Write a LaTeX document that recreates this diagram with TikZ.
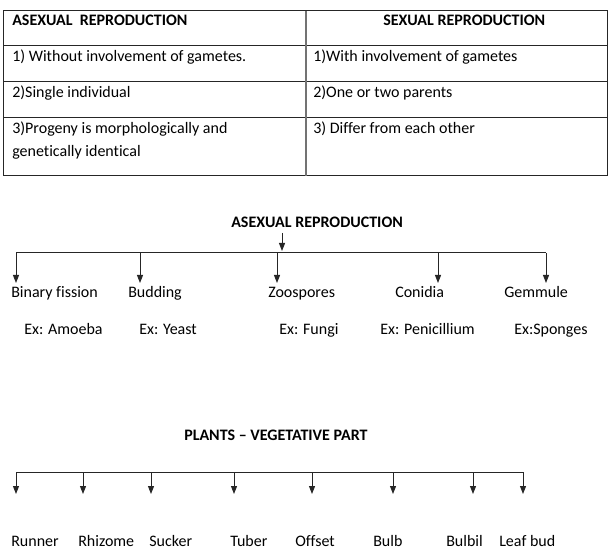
\documentclass[tikz,border=0pt]{standalone}
\usepackage{fontspec}
\setmainfont[Ligatures=NoCommon]{Carlito}
\usetikzlibrary{arrows.meta}

\begin{document}
\begin{tikzpicture}[x=0.75pt, y=-0.75pt,
	txt/.style={anchor=base west, inner sep=0pt, font=\fontsize{12}{14}\selectfont},
	head/.style={txt, font=\fontsize{12}{14}\selectfont\bfseries},
	rule/.style={line width=0.75pt, draw=black!85},
	branch/.style={-{Triangle[length=6pt, width=4.5pt]}, line width=0.75pt, draw=black!85}]
	
	\useasboundingbox (0, 0) rectangle (616, 555);
	
	% comparison table
	\draw[rule] (3.5, 11) rectangle (607, 176);
	\draw[rule] (3.5, 46) -- (607, 46);
	\draw[rule] (3.5, 82) -- (607, 82);
	\draw[rule] (3.5, 118) -- (607, 118);
	\draw[line width=1pt, draw=black!55] (306, 11) -- (306, 176);
	
	\node[head] (asex) at (12, 26)    {ASEXUAL\ \ REPRODUCTION};
	\node[head] (sex) at (383, 26)    {SEXUAL REPRODUCTION};
	
	\node[txt] (a1) at (12, 62)       {1) Without involvement of gametes.};
	\node[txt] (s1) at (313, 62)      {1)With involvement of gametes};
	\node[txt] (a2) at (12, 98)       {2)Single individual};
	\node[txt] (s2) at (313, 98)      {2)One or two parents};
	\node[txt] (a3) at (12, 134)      {3)Progeny is morphologically and};
	\node[txt] (a3b) at (12, 157)     {genetically identical};
	\node[txt] (s3) at (313, 134)     {3) Differ from each other};
	
	% asexual reproduction tree
	\node[head] (root) at (231, 228)  {ASEXUAL REPRODUCTION};
	
	\coordinate (top) at (282, 233);
	\coordinate (bar) at (282, 251);
	\coordinate (b1) at (16, 253);
	\coordinate (b2) at (140, 253);
	\coordinate (b3) at (277, 253);
	\coordinate (b4) at (438, 253);
	\coordinate (b5) at (546, 253);
	\coordinate (t1) at (16, 283);
	\coordinate (t2) at (140, 283);
	\coordinate (t3) at (277, 283);
	\coordinate (t4) at (438, 283);
	\coordinate (t5) at (546, 283);
	
	\node[txt] (binary) at (11, 298)    {Binary fission};
	\node[txt] (budding) at (128, 298)  {Budding};
	\node[txt] (zoo) at (268, 298)      {Zoospores};
	\node[txt] (conidia) at (395, 298)  {Conidia};
	\node[txt] (gemmule) at (504, 298)  {Gemmule};
	
	\node[txt] (exA) at (24, 334)       {Ex: Amoeba};
	\node[txt] (exY) at (139, 334)      {Ex: Yeast};
	\node[txt] (exF) at (279, 334)      {Ex: Fungi};
	\node[txt] (exP) at (380, 334)      {Ex: Penicillium};
	\node[txt] (exS) at (514, 334)      {Ex:Sponges};
	
	\draw[branch] (top) -- (bar);
	\draw[rule] (b1) -- (b5);
	\draw[branch] (b1) -- (t1);
	\draw[branch] (b2) -- (t2);
	\draw[branch] (b3) -- (t3);
	\draw[branch] (b4) -- (t4);
	\draw[branch] (b5) -- (t5);
	
	% vegetative parts
	\node[head] (plants) at (184, 440)  {PLANTS -- VEGETATIVE PART};
	
	\coordinate (p1) at (16, 472);
	\coordinate (p2) at (83, 472);
	\coordinate (p3) at (151, 472);
	\coordinate (p4) at (234, 472);
	\coordinate (p5) at (312, 472);
	\coordinate (p6) at (393, 472);
	\coordinate (p7) at (473, 472);
	\coordinate (p8) at (523, 472);
	\coordinate (q1) at (16, 494);
	\coordinate (q2) at (83, 494);
	\coordinate (q3) at (151, 494);
	\coordinate (q4) at (234, 494);
	\coordinate (q5) at (312, 494);
	\coordinate (q6) at (393, 494);
	\coordinate (q7) at (473, 494);
	\coordinate (q8) at (523, 494);
	
	\node[txt] (runner) at (11, 546)    {Runner};
	\node[txt] (rhizome) at (78, 546)   {Rhizome};
	\node[txt] (sucker) at (149, 546)   {Sucker};
	\node[txt] (tuber) at (230, 546)    {Tuber};
	\node[txt] (offset) at (295, 546)   {Offset};
	\node[txt] (bulb) at (373, 546)     {Bulb};
	\node[txt] (bulbil) at (446, 546)   {Bulbil};
	\node[txt] (leafbud) at (499, 546)  {Leaf bud};
	
	\draw[rule] (p1) -- (p8);
	\draw[branch] (p1) -- (q1);
	\draw[branch] (p2) -- (q2);
	\draw[branch] (p3) -- (q3);
	\draw[branch] (p4) -- (q4);
	\draw[branch] (p5) -- (q5);
	\draw[branch] (p6) -- (q6);
	\draw[branch] (p7) -- (q7);
	\draw[branch] (p8) -- (q8);
	
\end{tikzpicture}
\end{document}
